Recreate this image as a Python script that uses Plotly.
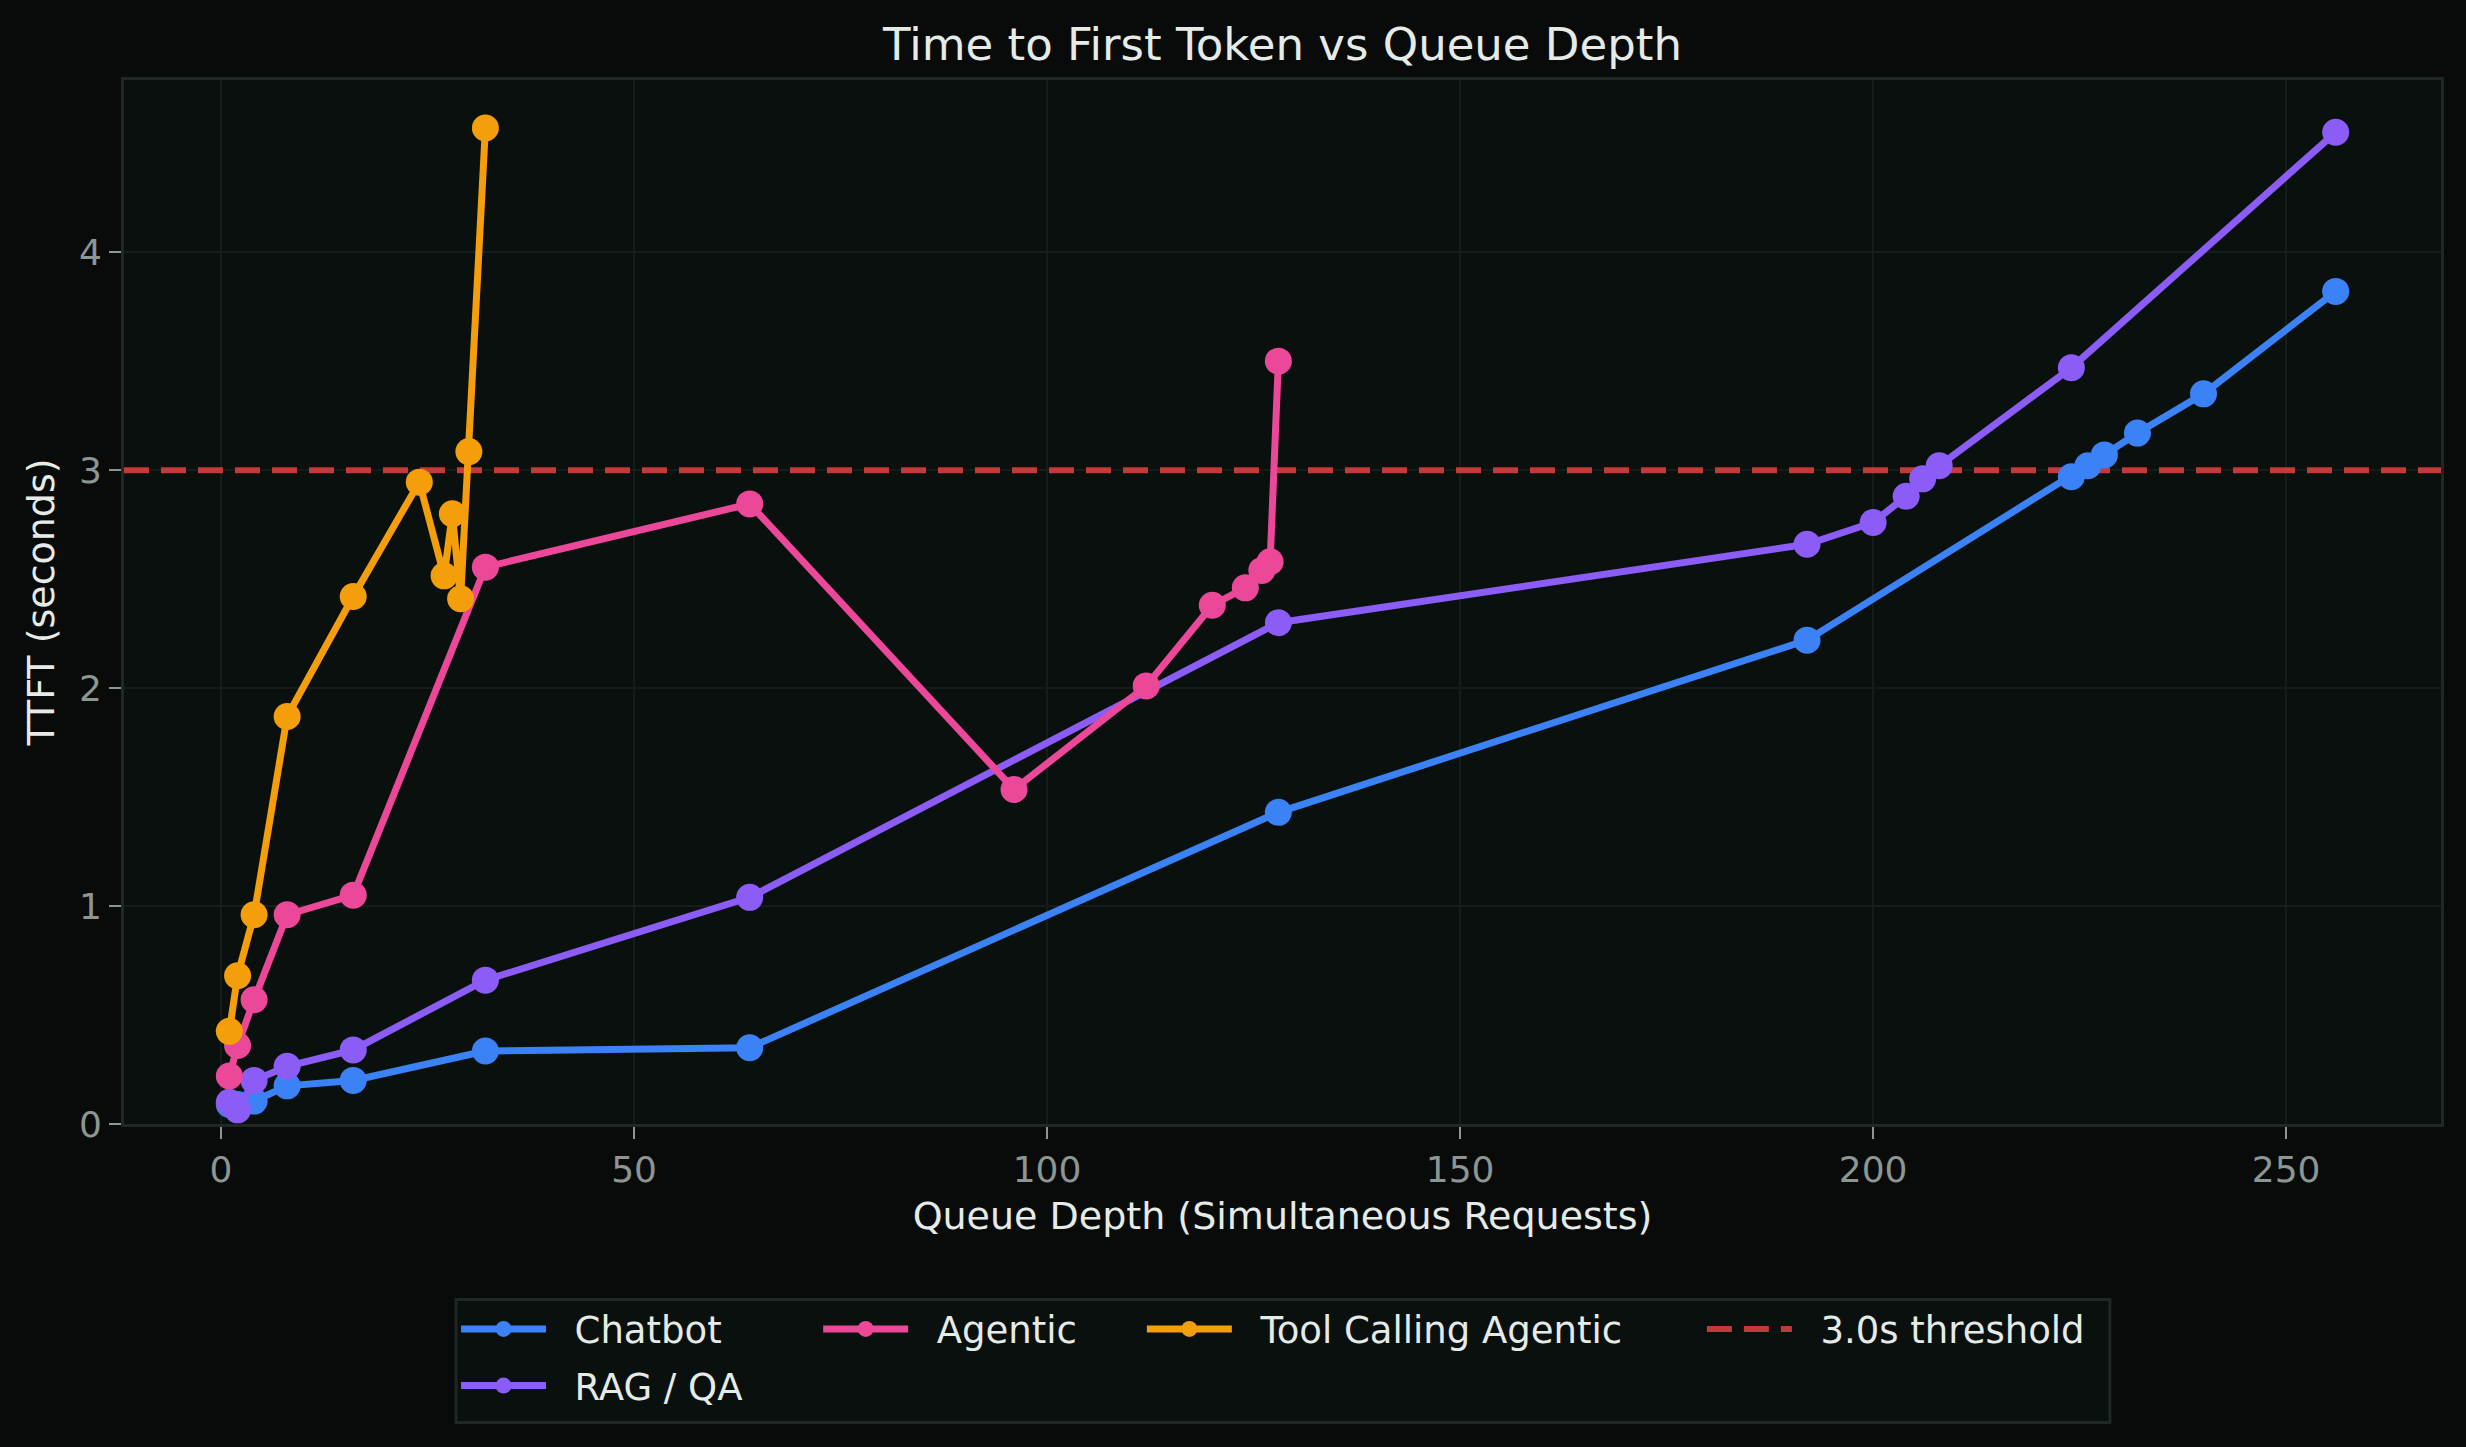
import plotly.graph_objects as go

# queue depth (x) and TTFT in seconds (y) for each workload
chatbot_x = [1, 2, 4, 8, 16, 32, 64, 128, 192, 224, 226, 228, 232, 240, 256]
chatbot_y = [0.09, 0.09, 0.105, 0.175, 0.20, 0.335, 0.35, 1.43, 2.22, 2.97, 3.02, 3.07, 3.17, 3.35, 3.82]

rag_x = [1, 2, 4, 8, 16, 32, 64, 128, 192, 200, 204, 206, 208, 224, 256]
rag_y = [0.10, 0.065, 0.20, 0.265, 0.34, 0.66, 1.04, 2.30, 2.66, 2.76, 2.88, 2.96, 3.02, 3.47, 4.55]

agentic_x = [1, 2, 4, 8, 16, 32, 64, 96, 112, 120, 124, 126, 127, 128]
agentic_y = [0.22, 0.36, 0.57, 0.96, 1.05, 2.555, 2.845, 1.535, 2.01, 2.38, 2.46, 2.54, 2.58, 3.50]

tool_x = [1, 2, 4, 8, 16, 24, 27, 28, 29, 30, 32]
tool_y = [0.425, 0.68, 0.96, 1.87, 2.42, 2.945, 2.515, 2.80, 2.41, 3.085, 4.57]

threshold = 3.0
x_range = [-11.75, 268.75]
y_range = [0, 4.79]

series_names = ["Chatbot", "RAG / QA", "Agentic", "Tool Calling Agentic"]
series_colors = ["#3b82f6", "#8b5cf6", "#ec4899", "#f59e0b"]
series_legends = ["legend2", "legend3", "legend4", "legend5"]
series_data = [(chatbot_x, chatbot_y), (rag_x, rag_y), (agentic_x, agentic_y), (tool_x, tool_y)]

fig_bg = "#080b0a"
plot_bg = "#0a100e"
grid_col = "#151d1a"
frame_col = "#1f2825"
tick_col = "#8d9692"
text_col = "#e6ebe8"
font_family = "DejaVu Sans"
pad = "\u00a0\u00a0"  # small gap between legend symbol and label

fig = go.Figure()

# threshold line first so the series sit on top of it
fig.add_trace(go.Scatter(
    x=x_range, y=[threshold, threshold], name=pad + "3.0s threshold", mode="lines",
    line=dict(color="rgba(239,68,68,0.8)", width=6, dash="25px,12px"),
    legend="legend6", hoverinfo="skip",
))

for name, color, leg, (xs, ys) in zip(series_names, series_colors, series_legends, series_data):
    fig.add_trace(go.Scatter(
        x=xs, y=ys, name=pad + name, mode="lines+markers",
        line=dict(color=color, width=7),
        marker=dict(color=color, size=27),
        legend=leg,
    ))

# legend frame (matplotlib style box below the plot)
fig.add_shape(
    type="rect", xref="paper", yref="paper",
    x0=0.1433, x1=0.8571, y0=-0.2858, y1=-0.168,
    fillcolor=plot_bg, line=dict(color=frame_col, width=3), layer="below",
)

leg_style = dict(
    orientation="v", bgcolor="rgba(0,0,0,0)", borderwidth=0,
    font=dict(family=font_family, size=37, color=text_col),
    itemwidth=85, xanchor="left", yanchor="middle",
)
row1, row2 = -0.1967, -0.251

fig.update_layout(
    width=2466, height=1447,
    paper_bgcolor=fig_bg, plot_bgcolor=plot_bg,
    font=dict(family=font_family, color=text_col, size=37),
    margin=dict(l=124, r=25, t=80, b=323),
    title=dict(text="Time to First Token vs Queue Depth", x=0.5, xref="paper",
               y=1 - 44 / 1447, yanchor="middle", font=dict(size=45, color=text_col)),
    xaxis=dict(
        range=x_range, tickvals=[0, 50, 100, 150, 200, 250],
        showgrid=True, gridcolor=grid_col, gridwidth=2, zeroline=False,
        showline=True, mirror=True, linecolor=frame_col, linewidth=3,
        ticks="outside", ticklen=12, tickwidth=2, tickcolor=tick_col,
        tickfont=dict(size=36, color=tick_col),
        title=dict(text="Queue Depth (Simultaneous Requests)", font=dict(size=38, color=text_col), standoff=14),
    ),
    yaxis=dict(
        range=y_range, tickvals=[0, 1, 2, 3, 4],
        showgrid=True, gridcolor=grid_col, gridwidth=2, zeroline=False,
        showline=True, mirror=True, linecolor=frame_col, linewidth=3,
        ticks="outside", ticklen=12, tickwidth=2, tickcolor=tick_col,
        tickfont=dict(size=36, color=tick_col),
        title=dict(text="TTFT (seconds)", font=dict(size=38, color=text_col), standoff=13),
    ),
    legend2=dict(leg_style, x=0.1433, y=row1),
    legend3=dict(leg_style, x=0.1433, y=row2),
    legend4=dict(leg_style, x=0.2996, y=row1),
    legend5=dict(leg_style, x=0.4393, y=row1),
    legend6=dict(leg_style, x=0.6810, y=row1),
)

fig.write_html("out.html", config={"displayModeBar": False},
               post_script="document.body.style.margin='0';")
